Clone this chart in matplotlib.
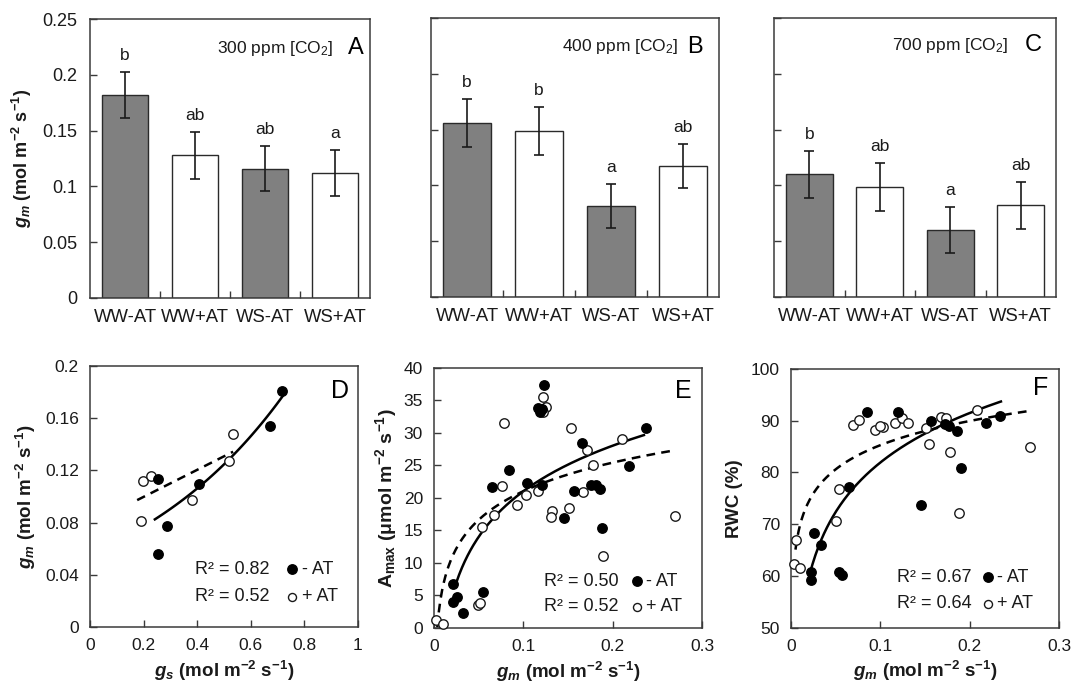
import numpy as np
import matplotlib
matplotlib.use("Agg")
import matplotlib.pyplot as plt

plt.rcParams['font.family'] = ['Liberation Sans', 'DejaVu Sans']
plt.rcParams['mathtext.fontset'] = 'custom'
plt.rcParams['mathtext.rm'] = 'Liberation Sans'
plt.rcParams['mathtext.it'] = 'Liberation Sans:italic'
plt.rcParams['mathtext.bf'] = 'Liberation Sans:bold'
plt.rcParams['mathtext.bfit'] = 'Liberation Sans:italic:bold'
plt.rcParams['mathtext.sf'] = 'Liberation Sans'

# ---------------- data: bar panels ----------------
categories = ["WW-AT", "WW+AT", "WS-AT", "WS+AT"]
bar_colors = ["#808080", "white", "#808080", "white"]

co2_labels = ["300 ppm [CO$_2$]", "400 ppm [CO$_2$]", "700 ppm [CO$_2$]"]
panel_top = ["A", "B", "C"]

gm_300 = [0.182, 0.128, 0.116, 0.112]
err_300 = [0.0205, 0.021, 0.0205, 0.021]
sig_300 = ["b", "ab", "ab", "a"]

gm_400 = [0.156, 0.1485, 0.0815, 0.1175]
err_400 = [0.0215, 0.0215, 0.020, 0.020]
sig_400 = ["b", "b", "a", "ab"]

gm_700 = [0.110, 0.0985, 0.060, 0.0823]
err_700 = [0.021, 0.0215, 0.021, 0.021]
sig_700 = ["b", "ab", "a", "ab"]

bar_ticks = [0, 0.05, 0.1, 0.15, 0.2, 0.25]
bar_ticklabels = ["0", "0.05", "0.1", "0.15", "0.2", "0.25"]

# ---------------- data: panel D (gm vs gs) ----------------
D_gs_noAT = [0.718, 0.673, 0.406, 0.252, 0.288, 0.252]
D_gm_noAT = [0.181, 0.154, 0.1095, 0.1136, 0.0777, 0.0558]
D_gs_AT = [0.196, 0.226, 0.189, 0.381, 0.520, 0.532]
D_gm_AT = [0.1115, 0.1156, 0.0816, 0.0972, 0.1274, 0.1478]
D_fit_noAT = [0.0560, 1.600]      # y = a*exp(b*x)
D_fit_noAT_range = [0.242, 0.718]
D_fit_AT = [0.1036, 0.079]        # y = m*x + c
D_fit_AT_range = [0.176, 0.534]
D_r2 = ["R² = 0.82", "R² = 0.52"]

# ---------------- data: panel E (Amax vs gm) ----------------
E_gm_noAT = [0.123, 0.116, 0.119, 0.121, 0.084, 0.0646, 0.104, 0.1206, 0.1456,
             0.021, 0.0255, 0.021, 0.0328, 0.0552, 0.2374, 0.1657, 0.2187,
             0.1568, 0.176, 0.181, 0.186, 0.188]
E_A_noAT = [37.3, 33.8, 33.2, 33.6, 24.3, 21.7, 22.3, 22.0, 16.9,
            6.7, 4.8, 4.0, 2.3, 5.5, 30.7, 28.4, 24.9,
            21.0, 21.9, 22.0, 21.3, 15.3]
E_gm_AT = [0.0022, 0.0097, 0.0496, 0.052, 0.0534, 0.067, 0.078, 0.0758, 0.0926,
           0.1027, 0.116, 0.1217, 0.125, 0.1224, 0.1318, 0.1307, 0.153, 0.151,
           0.167, 0.171, 0.178, 0.1896, 0.210, 0.270]
E_A_AT = [1.3, 0.6, 3.6, 3.8, 15.5, 17.4, 31.5, 21.8, 18.9,
          20.4, 21.0, 35.4, 33.9, 33.2, 17.9, 17.0, 30.7, 18.5,
          20.9, 27.3, 25.1, 11.0, 29.0, 17.2]
E_fit_noAT = [10.1, 44.25]        # y = a*ln(x) + b
E_fit_noAT_range = [0.025, 0.235]
E_fit_AT = [6.34, 35.6]
E_fit_AT_range = [0.0037, 0.27]
E_r2 = ["R² = 0.50", "R² = 0.52"]

# ---------------- data: panel F (RWC vs gm) ----------------
F_gm_noAT = [0.085, 0.1203, 0.0652, 0.0254, 0.0336, 0.0224, 0.0224, 0.0541, 0.0566,
             0.146, 0.157, 0.172, 0.177, 0.186, 0.218, 0.2343, 0.190]
F_rwc_noAT = [91.7, 91.7, 77.2, 68.3, 65.9, 60.8, 59.2, 60.8, 60.2,
              73.7, 90.0, 89.4, 89.0, 88.1, 89.5, 90.9, 80.8]
F_gm_AT = [0.069, 0.0764, 0.094, 0.1025, 0.100, 0.116, 0.1248, 0.1305, 0.054,
           0.0503, 0.0056, 0.003, 0.0105, 0.151, 0.155, 0.168, 0.173, 0.178,
           0.208, 0.188, 0.268]
F_rwc_AT = [89.2, 90.1, 88.2, 88.8, 89.0, 89.5, 90.5, 89.5, 76.9,
            70.7, 66.9, 62.4, 61.5, 88.6, 85.6, 90.7, 90.5, 84.0,
            92.1, 72.1, 85.0]
F_fit_noAT = [13.8, 113.7]
F_fit_noAT_range = [0.022, 0.235]
F_fit_AT = [6.74, 100.8]
F_fit_AT_range = [0.005, 0.27]
F_r2 = ["R² = 0.67", "R² = 0.64"]

# ---------------- figure ----------------
W, H = 1082, 693
fig = plt.figure(figsize=(W / 100, H / 100), dpi=100)

def frac(left, right, top, bottom):
    return [left / W, 1 - bottom / H, (right - left) / W, (bottom - top) / H]

spine_c = "#3a3a3a"
txt_c = "#1a1a1a"
lab_fs = 13.5
gm_label = r"$\mathbfit{g}_{\mathbfit{m}}$$\mathbf{\ (mol\ m^{-2}\ s^{-1})}$"

top_boxes = [frac(90, 370, 19, 298), frac(431, 719, 18, 297), frac(774, 1056, 18, 297)]
top_vals = [gm_300, gm_400, gm_700]
top_errs = [err_300, err_400, err_700]
top_sigs = [sig_300, sig_400, sig_700]
co2_pos = [(0.868, 0.895), (0.859, 0.897), (0.830, 0.903)]
letter_pos = [(0.977, 0.895), (0.945, 0.897), (0.951, 0.903)]

x = np.arange(len(categories))
for i in range(3):
    ax = fig.add_axes(top_boxes[i])
    ax.bar(x, top_vals[i], width=0.66, color=bar_colors, edgecolor="#2a2a2a",
           linewidth=1.0, zorder=2)
    ax.errorbar(x, top_vals[i], yerr=top_errs[i], fmt="none", ecolor="#1a1a1a",
                elinewidth=1.2, capsize=3.8, capthick=1.2, zorder=3)
    for xi, v, e, s in zip(x, top_vals[i], top_errs[i], top_sigs[i]):
        ax.text(xi, v + e + 0.008, s, ha="center", va="bottom", fontsize=12.5, color=txt_c)
    ax.set_xlim(-0.5, 3.5)
    ax.set_ylim(0, 0.25)
    ax.set_yticks(bar_ticks)
    if i == 0:
        ax.set_yticklabels(bar_ticklabels)
        ax.set_ylabel(gm_label, fontsize=13, color=txt_c, labelpad=6)
    else:
        ax.set_yticklabels([])
    ax.set_xticks(x)
    ax.set_xticklabels(categories, fontsize=13.3, color=txt_c)
    ax.set_xticks([0.5, 1.5, 2.5], minor=True)
    ax.tick_params(axis="x", which="major", length=0, pad=8)
    ax.tick_params(axis="x", which="minor", direction="in", length=5, width=1, color=spine_c)
    ax.tick_params(axis="y", direction="in", length=5, width=1, color=spine_c,
                   labelsize=13, labelcolor=txt_c, pad=9)
    for sp in ax.spines.values():
        sp.set_color(spine_c)
        sp.set_linewidth(1.1)
    ax.text(co2_pos[i][0], co2_pos[i][1], co2_labels[i], transform=ax.transAxes,
            ha="right", va="center", fontsize=12.5, color=txt_c)
    ax.text(letter_pos[i][0], letter_pos[i][1], panel_top[i], transform=ax.transAxes,
            ha="right", va="center", fontsize=17, color="black")

# ---------------- bottom panels ----------------
def style_scatter(ax):
    for sp in ax.spines.values():
        sp.set_color(spine_c)
        sp.set_linewidth(1.1)
    ax.tick_params(direction="in", length=5, width=1, color=spine_c,
                   labelsize=12.5, labelcolor=txt_c, pad=8)

ms = 6.8

def draw_points(ax, xf, yf, xo, yo):
    ax.plot(xo, yo, "o", ms=ms, mfc="white", mec="#1a1a1a", mew=1.0, zorder=3, clip_on=False)
    ax.plot(xf, yf, "o", ms=ms, mfc="black", mec="black", mew=1.0, zorder=4, clip_on=False)

def legend_text(ax, r2, xs, ys):
    x_txt, x_mk, x_lab = xs
    for j, (yy, lab) in enumerate(zip(ys, ["- AT", "+ AT"])):
        ax.text(x_txt, yy, r2[j], transform=ax.transAxes, ha="left", va="center",
                fontsize=13, color=txt_c)
        if j == 0:
            ax.plot([x_mk], [yy], "o", ms=ms, mfc="black", mec="black", transform=ax.transAxes,
                    clip_on=False)
        else:
            ax.plot([x_mk], [yy], "o", ms=ms * 0.85, mfc="white", mec="#1a1a1a", mew=1.0,
                    transform=ax.transAxes, clip_on=False)
        ax.text(x_lab, yy, lab, transform=ax.transAxes, ha="left", va="center",
                fontsize=13, color=txt_c)

dash = (3.5, 2.5)

# Panel D
axD = fig.add_axes(frac(90, 358, 366, 627))
xx = np.linspace(*D_fit_noAT_range, 100)
axD.plot(xx, D_fit_noAT[0] * np.exp(D_fit_noAT[1] * xx), color="black", lw=1.8, zorder=2)
xx = np.linspace(*D_fit_AT_range, 100)
axD.plot(xx, D_fit_AT[0] * xx + D_fit_AT[1], color="black", lw=1.8, dashes=dash, zorder=2)
draw_points(axD, D_gs_noAT, D_gm_noAT, D_gs_AT, D_gm_AT)
axD.set_xlim(0, 1)
axD.set_ylim(0, 0.2)
axD.set_xticks([0, 0.2, 0.4, 0.6, 0.8, 1])
axD.set_xticklabels(["0", "0.2", "0.4", "0.6", "0.8", "1"])
axD.set_yticks([0, 0.04, 0.08, 0.12, 0.16, 0.2])
axD.set_yticklabels(["0", "0.04", "0.08", "0.12", "0.16", "0.2"])
style_scatter(axD)
axD.set_xlabel(r"$\mathbfit{g}_{\mathbfit{s}}$$\mathbf{\ (mol\ m^{-2}\ s^{-1})}$",
               fontsize=lab_fs, color=txt_c, labelpad=4)
axD.set_ylabel(gm_label, fontsize=lab_fs, color=txt_c, labelpad=5)
axD.text(0.965, 0.903, "D", transform=axD.transAxes, ha="right", va="center", fontsize=18)
legend_text(axD, D_r2, (0.392, 0.754, 0.79), (0.222, 0.115))

# Panel E
axE = fig.add_axes(frac(434, 702, 367.5, 628))
xx = np.linspace(*E_fit_noAT_range, 200)
axE.plot(xx, E_fit_noAT[0] * np.log(xx) + E_fit_noAT[1], color="black", lw=1.8, zorder=2)
xx = np.linspace(*E_fit_AT_range, 300)
axE.plot(xx, E_fit_AT[0] * np.log(xx) + E_fit_AT[1], color="black", lw=1.8, dashes=dash, zorder=2)
draw_points(axE, E_gm_noAT, E_A_noAT, E_gm_AT, E_A_AT)
axE.set_xlim(0, 0.3)
axE.set_ylim(0, 40)
axE.set_xticks([0, 0.1, 0.2, 0.3])
axE.set_xticklabels(["0", "0.1", "0.2", "0.3"])
axE.set_yticks(range(0, 41, 5))
style_scatter(axE)
axE.set_xlabel(gm_label, fontsize=lab_fs, color=txt_c, labelpad=4)
axE.set_ylabel(r"$\mathbf{A_{max}\ (\mu mol\ m^{-2}\ s^{-1})}$",
               fontsize=lab_fs + 0.5, color=txt_c, labelpad=3)
axE.text(0.962, 0.909, "E", transform=axE.transAxes, ha="right", va="center", fontsize=18)
legend_text(axE, E_r2, (0.41, 0.756, 0.79), (0.18, 0.082))

# Panel F
axF = fig.add_axes(frac(791, 1059, 369, 627.7))
xx = np.linspace(*F_fit_noAT_range, 200)
axF.plot(xx, F_fit_noAT[0] * np.log(xx) + F_fit_noAT[1], color="black", lw=1.8, zorder=2)
xx = np.linspace(*F_fit_AT_range, 300)
axF.plot(xx, F_fit_AT[0] * np.log(xx) + F_fit_AT[1], color="black", lw=1.8, dashes=dash, zorder=2)
draw_points(axF, F_gm_noAT, F_rwc_noAT, F_gm_AT, F_rwc_AT)
axF.set_xlim(0, 0.3)
axF.set_ylim(50, 100)
axF.set_xticks([0, 0.1, 0.2, 0.3])
axF.set_xticklabels(["0", "0.1", "0.2", "0.3"])
axF.set_yticks(range(50, 101, 10))
style_scatter(axF)
axF.set_xlabel(gm_label, fontsize=lab_fs, color=txt_c, labelpad=4)
axF.set_ylabel("RWC (%)", fontsize=lab_fs, fontweight="bold", color=txt_c, labelpad=6)
axF.text(0.96, 0.925, "F", transform=axF.transAxes, ha="right", va="center", fontsize=18)
legend_text(axF, F_r2, (0.394, 0.734, 0.768), (0.195, 0.092))

fig.savefig("out.png", dpi=100, facecolor="white")
